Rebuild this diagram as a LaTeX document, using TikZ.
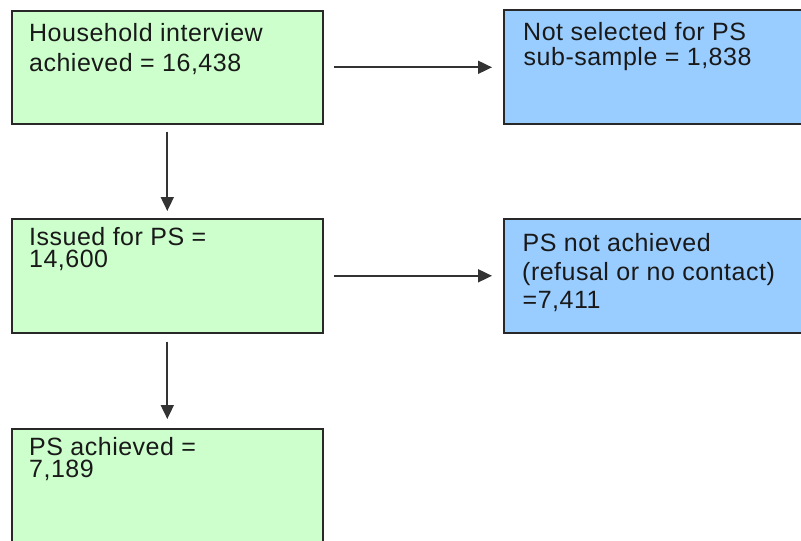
\documentclass[tikz,border=0pt]{standalone}
\usepackage{fontspec}
\setmainfont{Liberation Sans}[LetterSpace=2]
\usetikzlibrary{arrows.meta}
\definecolor{boxgreen}{RGB}{204,255,204}
\definecolor{boxblue}{RGB}{153,204,255}
\definecolor{edge}{RGB}{40,40,40}
\tikzset{
  greenbox/.style={draw=edge, line width=1.6pt, fill=boxgreen, anchor=north west, inner sep=0pt, minimum width=311pt, minimum height=113pt},
  bluebox/.style={draw=edge, line width=1.6pt, fill=boxblue, anchor=north west, inner sep=0pt, minimum width=305pt, minimum height=114pt},
  txt/.style={anchor=base west, inner sep=0pt, font=\fontsize{25}{28}\selectfont, text=black!90},
  arr/.style={-{Triangle[length=14pt,width=13pt]}, line width=1.8pt, draw=black!80}
}
\begin{document}
\begin{tikzpicture}[x=1pt,y=-1pt]
\useasboundingbox (0,0) rectangle (801,541);
\fill[white] (0,0) rectangle (801,541);
% boxes
\node[greenbox] (b1) at (11,10) {};
\node[bluebox] (b2) at (503,9) {};
\node[greenbox, minimum height=114pt] (b3) at (11,218) {};
\node[bluebox] (b4) at (503,218) {};
\node[greenbox, minimum height=120pt] (b5) at (11,428) {};
% texts
\node[txt] (t1) at (29,41.5) {\vtop{\baselineskip=30pt\hbox{Household interview}\hbox{achieved = 16,438}}};
\node[txt] (t2) at (523,40.3) {\vtop{\baselineskip=25.2pt\hbox{Not selected for PS}\hbox{\kern0.5pt sub-sample = 1,838}}};
\node[txt] (t3) at (29,245) {\vtop{\baselineskip=22pt\hbox{Issued for PS =}\hbox{14,600}}};
\node[txt] (t4) at (522.5,251.7) {\vtop{\baselineskip=28.3pt\hbox{PS not achieved}\hbox{\kern-0.5pt(refusal or no contact)}\hbox{=7,411}}};
\node[txt] (t5) at (29,455) {\vtop{\baselineskip=22pt\hbox{PS achieved =}\hbox{7,189}}};
% arrows
\draw[arr] ([xshift=10pt]b1.east) -- ([xshift=-11pt]b2.west |- b1.east);
\draw[arr] ([xshift=10pt]b3.east) -- ([xshift=-11pt]b4.west |- b3.east);
\draw[arr] ([yshift=-7pt]b1.south) -- ([yshift=7pt]b3.north);
\draw[arr] ([yshift=-8pt]b3.south) -- ([yshift=9pt]b5.north);
\end{tikzpicture}
\end{document}
